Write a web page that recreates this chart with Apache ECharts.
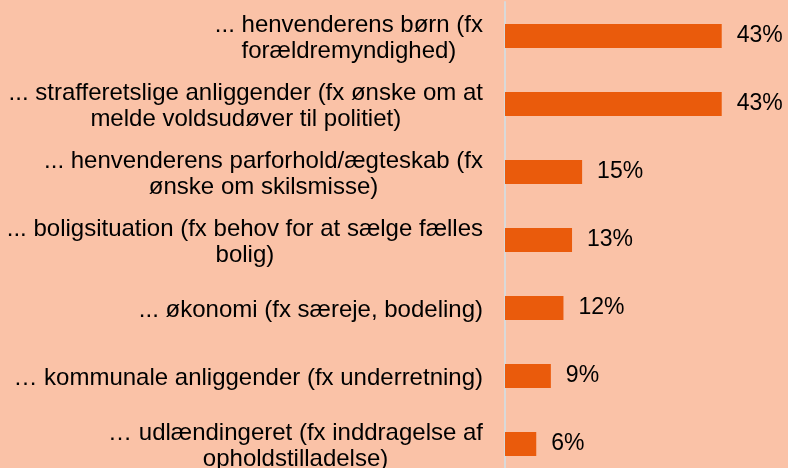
<!DOCTYPE html>
<html>
<head>
<meta charset="utf-8">
<script src="https://cdn.jsdelivr.net/npm/echarts@6/dist/echarts.min.js"></script>
<style>
  html, body { margin: 0; padding: 0; background: #FAC2A7; }
  #main { width: 788px; height: 468px; }
</style>
</head>
<body>
<div id="main"></div>
<script>
// categories (top to bottom), line breaks as in the original
const categories = [
  '... henvenderens børn (fx\nforældremyndighed)',
  '... strafferetslige anliggender (fx ønske om at\nmelde voldsudøver til politiet)',
  '... henvenderens parforhold/ægteskab (fx\nønske om skilsmisse)',
  '... boligsituation (fx behov for at sælge fælles\nbolig)',
  '... økonomi (fx særeje, bodeling)',
  '… kommunale anliggender (fx underretning)',
  '… udlændingeret (fx inddragelse af\nopholdstilladelse)'
]
// percent values
const values = [43, 43, 15.3, 13.3, 11.6, 9.1, 6.2]

let myChart = echarts.init(document.getElementById('main'))
let option = {
  backgroundColor: '#FAC2A7',
  animation: false,
  textStyle: {
    fontFamily: 'Liberation Sans, Arial, sans-serif'
  },
  grid: {
    left: 505,
    top: 2,
    width: 252,
    height: 476,
    containLabel: false,
    outerBoundsMode: 'none'
  },
  xAxis: {
    type: 'value',
    min: 0,
    max: 50,
    show: false,
    splitLine: { show: false }
  },
  yAxis: {
    type: 'category',
    inverse: true,
    data: categories,
    axisLine: {
      show: true,
      lineStyle: { color: '#D9D9D9', width: 2 }
    },
    axisTick: { show: false },
    splitLine: { show: false },
    axisLabel: {
      margin: 22,
      padding: [4, 0, 0, 0],
      formatter: (v) => '{a|' + v + '}',
      rich: {
        a: {
          fontSize: 24,
          lineHeight: 26,
          align: 'center',
          color: '#000',
          fontFamily: 'Liberation Sans, Arial, sans-serif'
        }
      }
    }
  },
  series: [
    {
      type: 'bar',
      data: values,
      barWidth: 24,
      itemStyle: { color: '#EA5B0C' },
      label: {
        show: true,
        position: 'right',
        distance: 15,
        fontSize: 23,
        color: '#000',
        fontFamily: 'Liberation Sans, Arial, sans-serif',
        formatter: (p) => Math.round(p.value) + '%'
      }
    }
  ]
}
myChart.setOption(option)
</script>
</body>
</html>
